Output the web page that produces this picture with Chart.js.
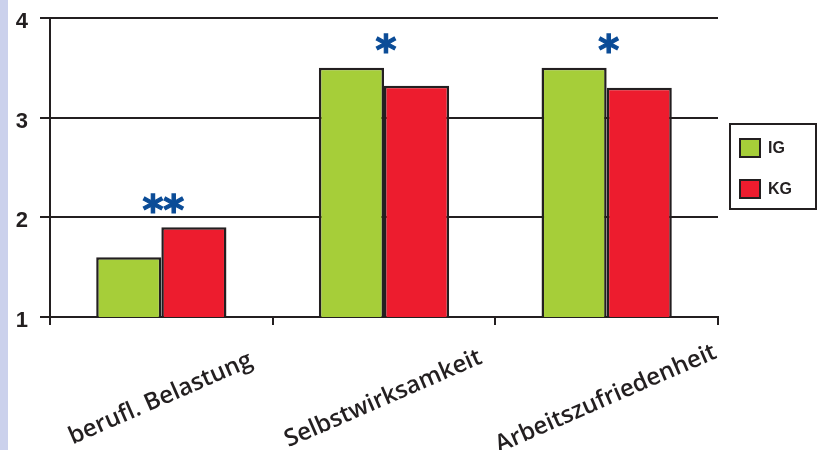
<!DOCTYPE html>
<html>
<head>
<meta charset="utf-8">
<script src="https://cdn.jsdelivr.net/npm/chart.js@4.4.0/dist/chart.umd.min.js"></script>
<style>
  html, body { margin: 0; padding: 0; background: #fff; }
  #wrap { width: 823px; height: 450px; }
</style>
</head>
<body>
<div id="wrap"><canvas id="chart" width="823" height="450"></canvas></div>
<script>
// chart data
const categories = ["berufl. Belastung", "Selbstwirksamkeit", "Arbeitszufriedenheit"]
const igValues = [1.6, 3.5, 3.5]
const kgValues = [1.9, 3.32, 3.3]
const stars = ["**", "*", "*"]
const yTicks = [1, 2, 3, 4]

const GREEN = '#a6ce39'
const RED = '#ed1c2e'
const INK = '#231f20'
const STAR_BLUE = '#0b4c97'

// lavender strip on the left edge + white background
const backdrop = {
  id: 'backdrop',
  beforeDraw(chart) {
    const ctx = chart.ctx
    ctx.save()
    ctx.fillStyle = '#fff'
    ctx.fillRect(0, 0, chart.width, chart.height)
    ctx.fillStyle = '#cbd1ec'
    ctx.fillRect(0, 0, 8, chart.height)
    ctx.restore()
  }
}

// significance stars above each category
const starMarks = {
  id: 'starMarks',
  afterDatasetsDraw(chart) {
    const ctx = chart.ctx
    const x = chart.scales.x
    const y = chart.scales.y
    ctx.save()
    ctx.fillStyle = STAR_BLUE
    ctx.strokeStyle = STAR_BLUE
    ctx.lineWidth = 1.2
    ctx.font = 'bold 40px "DejaVu Sans"'
    ctx.textAlign = 'center'
    ctx.textBaseline = 'middle'
    stars.forEach((s, i) => {
      const top = y.getPixelForValue(Math.max(igValues[i], kgValues[i]))
      const cx = x.getPixelForValue(i) + 2
      ctx.fillText(s, cx, top - 14)
      ctx.strokeText(s, cx, top - 14)
    })
    ctx.restore()
  }
}

// rotated category labels, centred on each category
const catLabels = {
  id: 'catLabels',
  afterDraw(chart) {
    const ctx = chart.ctx
    const x = chart.scales.x
    const base = chart.chartArea.bottom
    ctx.save()
    ctx.fillStyle = INK
    ctx.font = '600 24px "Open Sans"'
    ctx.textAlign = 'center'
    ctx.textBaseline = 'alphabetic'
    categories.forEach((c, i) => {
      const cx = x.getPixelForValue(i) + 2
      ctx.save()
      ctx.translate(cx, base + 88)
      ctx.rotate(-23.5 * Math.PI / 180)
      ctx.fillText(c, 0, 0)
      ctx.restore()
    })
    ctx.restore()
  }
}

// boxed legend to the right of the plot
const boxLegend = {
  id: 'boxLegend',
  afterDraw(chart) {
    const ctx = chart.ctx
    const area = chart.chartArea
    const left = area.right + 12
    const top = area.top + 106
    ctx.save()
    ctx.strokeStyle = INK
    ctx.lineWidth = 2
    ctx.strokeRect(left, top, 86, 85)
    ctx.font = 'bold 16px "Liberation Sans Narrow", "Liberation Sans"'
    ctx.textBaseline = 'middle'
    chart.data.datasets.forEach((ds, i) => {
      const ry = top + 15 + i * 41
      ctx.fillStyle = ds.backgroundColor
      ctx.fillRect(left + 10, ry, 20, 18)
      ctx.strokeRect(left + 10, ry, 20, 18)
      ctx.fillStyle = INK
      ctx.fillText(ds.label, left + 38, ry + 10)
    })
    ctx.restore()
  }
}

new Chart(document.getElementById('chart'), {
  type: 'bar',
  data: {
    labels: categories,
    datasets: [
      { label: 'IG', data: igValues, backgroundColor: GREEN, borderColor: INK, borderWidth: 2.5 },
      { label: 'KG', data: kgValues, backgroundColor: RED, borderColor: INK, borderWidth: 2.5 }
    ]
  },
  options: {
    responsive: false,
    animation: false,
    devicePixelRatio: 1,
    layout: { padding: { top: 18, right: 105, left: 0, bottom: 0 } },
    categoryPercentage: 0.585,
    barPercentage: 1,
    plugins: {
      legend: { display: false },
      tooltip: { enabled: false }
    },
    scales: {
      x: {
        afterFit(scale) {
          scale.height = 133
          scale.paddingLeft = 0
          scale.paddingRight = 0
        },
        ticks: { display: false },
        grid: {
          offset: true,
          drawOnChartArea: false,
          drawTicks: true,
          tickLength: 8,
          color: INK,
          lineWidth: 2
        },
        border: { display: true, color: INK, width: 2 }
      },
      y: {
        min: 1,
        max: 4,
        afterFit(scale) {
          scale.width = 50
          // labels may overflow; the plot edges are set by layout padding
          scale.paddingTop = 0
          scale.paddingBottom = 0
        },
        afterBuildTicks(scale) { scale.ticks = yTicks.map(v => ({ value: v })) },
        ticks: {
          color: INK,
          font: { family: '"Liberation Sans"', weight: 'bold', size: 22 },
          padding: 12,
          labelOffset: 4
        },
        grid: { color: INK, lineWidth: 2, tickLength: 10 },
        border: { display: true, color: INK, width: 2 }
      }
    }
  },
  plugins: [backdrop, starMarks, catLabels, boxLegend]
})
</script>
</body>
</html>
